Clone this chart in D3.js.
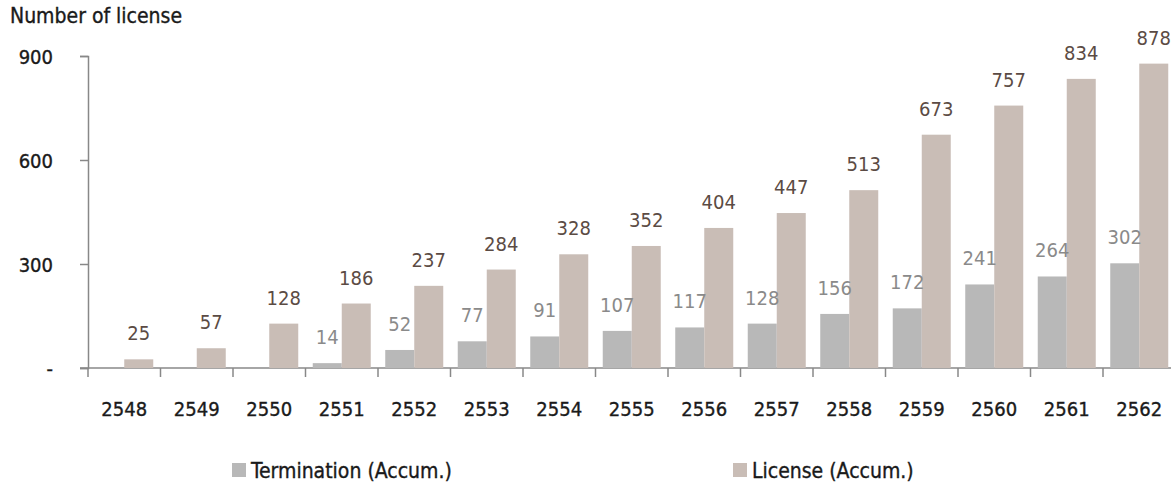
<!DOCTYPE html>
<html>
<head>
<meta charset="utf-8">
<script src="https://cdn.jsdelivr.net/npm/d3@7"></script>
<style>
  body { margin: 0; background: #fff; }
  text { font-family: "DejaVu Sans Condensed", "DejaVu Sans", sans-serif; font-stretch: condensed; }
  .fonce { stroke: #1a1a1a; stroke-width: 0.35px; }
</style>
</head>
<body>
<svg id="chart" width="1171" height="489"></svg>
<script>
// data
const years = ["2548", "2549", "2550", "2551", "2552", "2553", "2554", "2555",
               "2556", "2557", "2558", "2559", "2560", "2561", "2562"];
const termination = [null, null, null, 14, 52, 77, 91, 107, 117, 128, 156, 172, 241, 264, 302];
const license = [25, 57, 128, 186, 237, 284, 328, 352, 404, 447, 513, 673, 757, 834, 878];
const yTicks = [0, 300, 600, 900];
const seriesNames = ["Termination (Accum.)", "License (Accum.)"];

const couleurTerm = "#b8b8b8";
const couleurLic = "#c9bdb6";

const svg = d3.select("#chart");

const x = d3.scaleBand().domain(years).range([88, 1175.5]);
const y = d3.scaleLinear().domain([0, 900]).range([368, 56]);

const barW = 29;

// axis title
svg.append("text")
    .attr("class", "fonce")
    .attr("x", 10).attr("y", 23)
    .style("font-size", "21px")
    .style("fill", "#1a1a1a")
    .text("Number of license");

// y axis
const yAxis = d3.axisLeft(y)
    .tickValues(yTicks)
    .tickSize(8)
    .tickPadding(27)
    .tickFormat((d) => d === 0 ? "-" : d);

const gy = svg.append("g").attr("transform", "translate(88,0)").call(yAxis);
gy.select(".domain").attr("stroke", "#888").attr("stroke-width", 1.5);
gy.selectAll(".tick line").attr("stroke", "#888").attr("stroke-width", 1.5);
gy.selectAll(".tick text")
    .attr("class", "fonce")
    .style("font-size", "20px")
    .style("fill", "#1a1a1a").attr("dy", "0.35em");

// x axis, ticks at band boundaries
const gx = svg.append("g");
gx.append("line")
    .attr("x1", 80).attr("x2", 1171)
    .attr("y1", y(0)).attr("y2", y(0))
    .attr("stroke", "#888").attr("stroke-width", 1.5);

gx.selectAll(".bord")
    .data(years)
    .enter()
    .append("line")
    .attr("class", "bord")
    .attr("x1", (d) => x(d)).attr("x2", (d) => x(d))
    .attr("y1", y(0)).attr("y2", y(0) + 9)
    .attr("stroke", "#888").attr("stroke-width", 1.5);

gx.selectAll(".annee")
    .data(years)
    .enter()
    .append("text")
    .attr("class", "annee fonce")
    .attr("x", (d) => x(d) + x.bandwidth() / 2)
    .attr("y", 416)
    .attr("text-anchor", "middle")
    .style("font-size", "20px")
    .style("fill", "#1a1a1a")
    .text((d) => d);

// bars
const lignes = years.map((d, i) => ({ annee: d, term: termination[i], lic: license[i] }));

svg.selectAll(".Term")
    .data(lignes.filter((d) => d.term != null))
    .enter()
    .append("rect")
    .attr("class", "Term")
    .attr("x", (d) => x(d.annee) + x.bandwidth() / 2 - barW)
    .attr("width", barW)
    .attr("y", (d) => y(d.term))
    .attr("height", (d) => y(0) - y(d.term))
    .style("fill", couleurTerm);

svg.selectAll(".Lic")
    .data(lignes)
    .enter()
    .append("rect")
    .attr("class", "Lic")
    .attr("x", (d) => x(d.annee) + x.bandwidth() / 2)
    .attr("width", barW)
    .attr("y", (d) => y(d.lic))
    .attr("height", (d) => y(0) - y(d.lic))
    .style("fill", couleurLic);

// value labels
svg.selectAll(".TermLbl")
    .data(lignes.filter((d) => d.term != null))
    .enter()
    .append("text")
    .attr("class", "TermLbl")
    .attr("x", (d) => x(d.annee) + x.bandwidth() / 2 - barW / 2)
    .attr("y", (d) => y(d.term) - 19)
    .attr("text-anchor", "middle")
    .style("font-size", "20px")
    .style("fill", "#8a8a8a")
    .text((d) => d.term);

svg.selectAll(".LicLbl")
    .data(lignes)
    .enter()
    .append("text")
    .attr("class", "LicLbl")
    .attr("x", (d) => x(d.annee) + x.bandwidth() / 2 + barW / 2)
    .attr("y", (d) => y(d.lic) - 19)
    .attr("text-anchor", "middle")
    .style("font-size", "20px")
    .style("fill", "#5b4b44")
    .text((d) => d.lic);

// legend
const legende = svg.selectAll(".leg")
    .data(seriesNames)
    .enter()
    .append("g")
    .attr("class", "leg")
    .attr("transform", (d, i) => `translate(${i === 0 ? 232 : 733}, 463)`);

legende.append("rect")
    .attr("width", 14).attr("height", 14)
    .style("fill", (d, i) => i === 0 ? couleurTerm : couleurLic);

legende.append("text")
    .attr("class", "fonce")
    .attr("x", 19).attr("y", 15)
    .style("font-size", "21px")
    .style("fill", "#1a1a1a")
    .text((d) => d);
</script>
</body>
</html>
